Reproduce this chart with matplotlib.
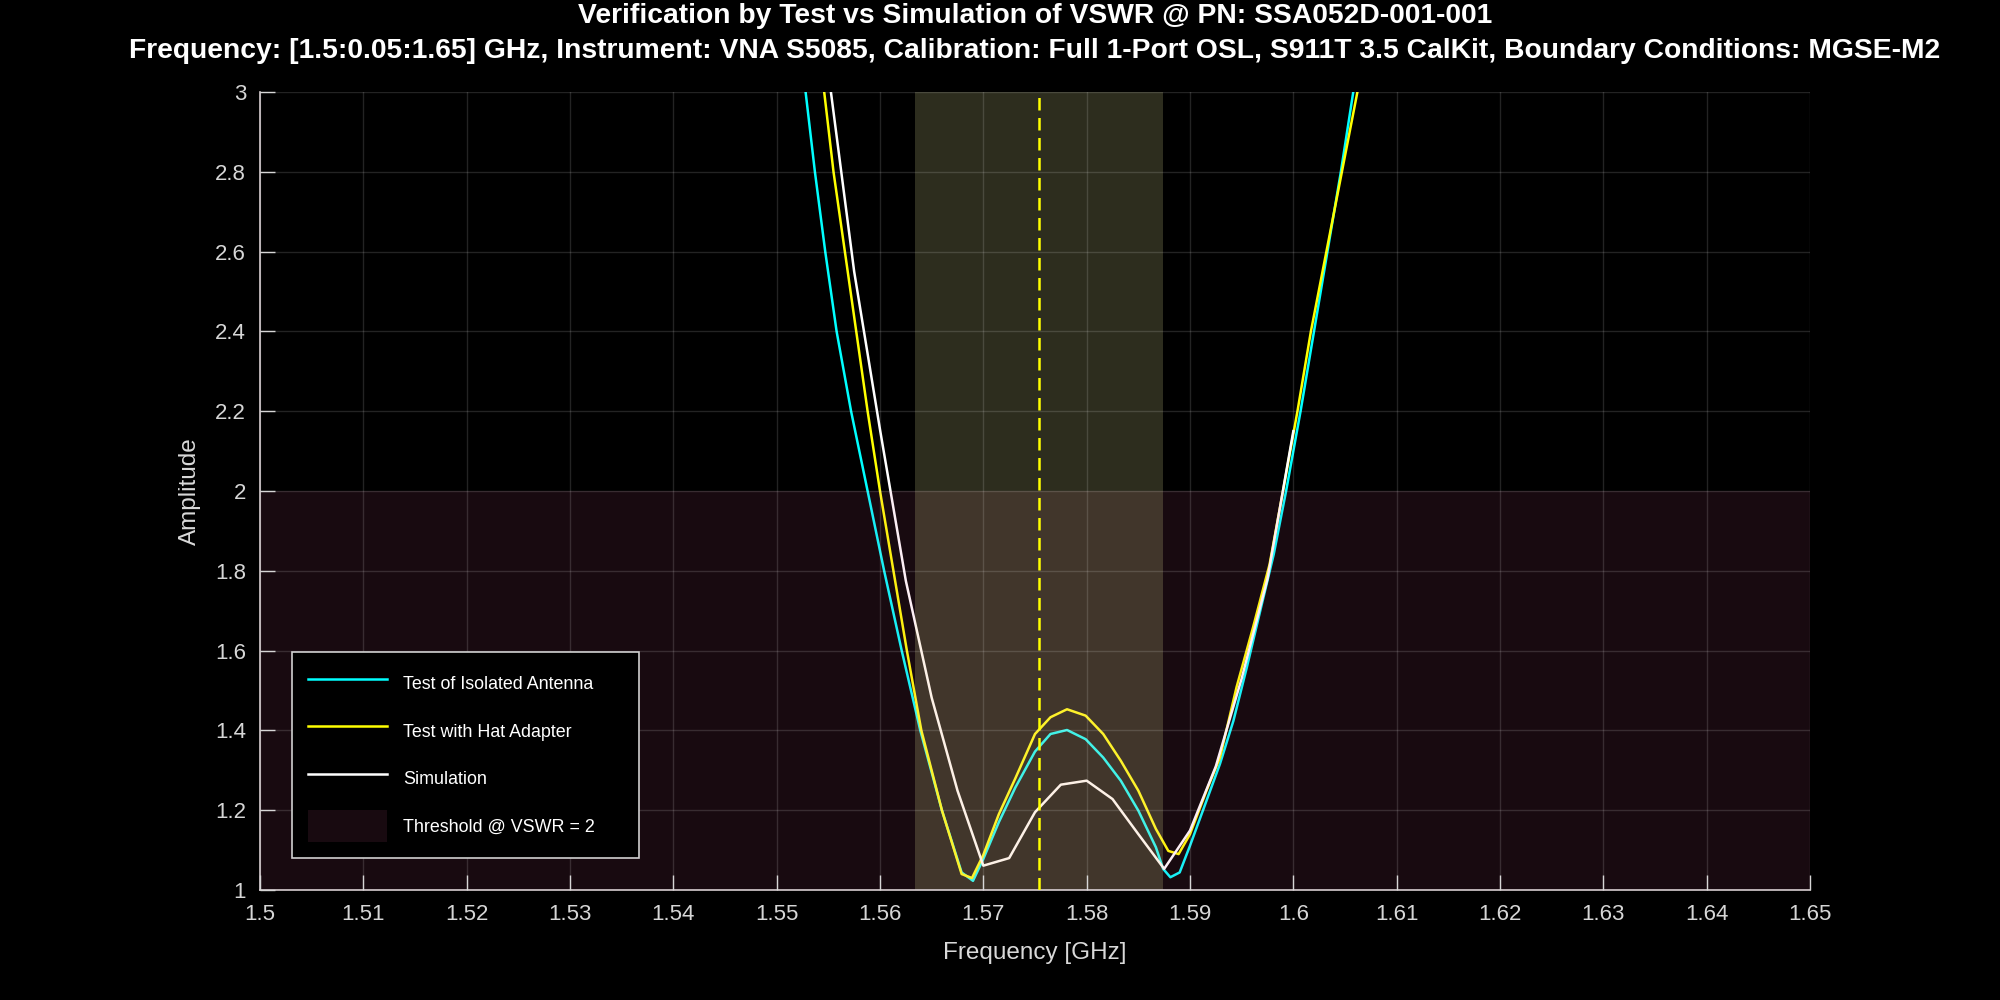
"""VSWR verification: test vs simulation, SSA052D-001-001."""
import matplotlib
matplotlib.use("Agg")
import matplotlib.pyplot as plt
import numpy as np

plt.rcParams["font.family"] = ["Liberation Sans", "DejaVu Sans"]

# test of isolated antenna (cyan)
f_iso = [1.5510, 1.5528, 1.5537, 1.5547, 1.5558, 1.5572, 1.5588, 1.5604, 1.5621,
         1.5639, 1.5660, 1.5679, 1.5690, 1.5700, 1.5715, 1.5731, 1.5750, 1.5765,
         1.5781, 1.5799, 1.5816, 1.5833, 1.5850, 1.5867, 1.5874, 1.5881, 1.5890,
         1.5900, 1.5916, 1.5929, 1.5942, 1.5955, 1.5968, 1.5981, 1.5993, 1.6007,
         1.6020, 1.6033, 1.6046, 1.6058, 1.6070]
v_iso = [3.45, 3.00, 2.80, 2.60, 2.40, 2.20, 2.00, 1.800, 1.600,
         1.400, 1.199, 1.044, 1.023, 1.078, 1.170, 1.257, 1.347, 1.391,
         1.401, 1.378, 1.332, 1.274, 1.199, 1.107, 1.053, 1.032, 1.044,
         1.111, 1.224, 1.316, 1.424, 1.558, 1.700, 1.841, 2.000, 2.200,
         2.400, 2.600, 2.800, 3.000, 3.22]

# test with hat adapter (yellow)
f_hat = [1.5530, 1.5546, 1.5555, 1.5566, 1.5577, 1.5588, 1.5600, 1.5613, 1.5626,
         1.5640, 1.5660, 1.5679, 1.5689, 1.5700, 1.5715, 1.5731, 1.5750, 1.5765,
         1.5781, 1.5799, 1.5816, 1.5833, 1.5850, 1.5867, 1.5879, 1.5889, 1.5900,
         1.5916, 1.5929, 1.5945, 1.5961, 1.5977, 1.5990, 1.6004, 1.6017, 1.6032,
         1.6047, 1.6062, 1.6075]
v_hat = [3.40, 3.00, 2.80, 2.60, 2.40, 2.20, 2.00, 1.800, 1.600,
         1.400, 1.199, 1.040, 1.030, 1.088, 1.190, 1.280, 1.391, 1.433,
         1.453, 1.437, 1.391, 1.324, 1.249, 1.153, 1.098, 1.090, 1.140,
         1.249, 1.332, 1.508, 1.658, 1.816, 2.000, 2.200, 2.400, 2.600,
         2.800, 3.000, 3.20]

# simulation (white), 2.5 MHz step
f_sim = [1.5500, 1.5525, 1.5550, 1.5575, 1.5600, 1.5625, 1.5650, 1.5675, 1.5700,
         1.5725, 1.5750, 1.5775, 1.5800, 1.5825, 1.5850, 1.5875, 1.5900, 1.5925,
         1.5950, 1.5975, 1.6000]
v_sim = [4.20, 3.60, 3.05, 2.55, 2.154, 1.775, 1.482, 1.249, 1.061,
         1.080, 1.195, 1.264, 1.274, 1.228, 1.140, 1.053, 1.149, 1.310,
         1.530, 1.780, 2.150]

band_lo, band_hi, f_center = 1.56342, 1.58742, 1.57542
threshold = 2

fig = plt.figure(figsize=(20, 10), dpi=100, facecolor="black")
ax = fig.add_axes([0.13, 0.11, 0.775, 0.798])
ax.set_facecolor("black")

lw = 1.8
ax.plot(f_iso, v_iso, color="#00ffff", lw=lw, label="Test of Isolated Antenna      ", zorder=2)
ax.plot(f_hat, v_hat, color="#ffff00", lw=lw, label="Test with Hat Adapter", zorder=2)
ax.plot(f_sim, v_sim, color="#ffffff", lw=lw, label="Simulation", zorder=2)
ax.axhspan(1, threshold, color="#f064a0", alpha=0.1, lw=0,
           label="Threshold @ VSWR = 2", zorder=2.2)
ax.axvspan(band_lo, band_hi, color="#ffffa8", alpha=0.18, lw=0, zorder=2.3)
ax.axvline(f_center, color="#ffff00", lw=lw, dashes=(5.0, 3.0), zorder=3)

ax.set_xlim(1.5, 1.65)
ax.set_ylim(1, 3)
xt = np.round(np.arange(1.5, 1.6501, 0.01), 2)
yt = np.round(np.arange(1, 3.001, 0.2), 1)
ax.set_xticks(xt); ax.set_xticklabels(["%g" % v for v in xt])
ax.set_yticks(yt); ax.set_yticklabels(["%g" % v for v in yt])

ax.set_axisbelow(False)
ax.grid(True, color="white", alpha=0.14, lw=1)
for s in ["top", "right"]:
    ax.spines[s].set_visible(False)
for s in ["left", "bottom"]:
    ax.spines[s].set_color("#d6cdd0")
    ax.spines[s].set_linewidth(1.2)
ax.tick_params(direction="in", length=11, width=1, colors="#d6d6d6",
               labelsize=16, top=False, right=False)
ax.tick_params(axis="x", pad=10)
ax.tick_params(axis="y", pad=10)

ax.set_xlabel("Frequency [GHz]", fontsize=17.5, color="#d9d9d9")
ax.set_ylabel("Amplitude", fontsize=17.5, color="#d9d9d9")
ax.xaxis.set_label_coords(0.5, -0.065)
ax.yaxis.set_label_coords(-0.038, 0.5)

leg = ax.legend(loc="lower left", bbox_to_anchor=(0.0206, 0.040), borderaxespad=0,
                fontsize=12.9, frameon=True, fancybox=False, facecolor="black",
                edgecolor="#d0d0d0", framealpha=1, handlelength=4.4,
                handleheight=2.37, handletextpad=0.9, labelspacing=0.86,
                borderpad=0.89)
leg.get_frame().set_linewidth(1.2)
for t in leg.get_texts():
    t.set_color("white")

fig.text(0.5175, 0.977, "Verification by Test vs Simulation of VSWR @ PN: SSA052D-001-001",
         ha="center", va="baseline", color="white", fontsize=20.3, fontweight="bold")
fig.text(0.5175, 0.9415,
         "Frequency: [1.5:0.05:1.65] GHz, Instrument: VNA S5085, Calibration: Full 1-Port OSL, "
         "S911T 3.5 CalKit, Boundary Conditions: MGSE-M2",
         ha="center", va="baseline", color="white", fontsize=20.3, fontweight="bold")

fig.savefig("out.png", dpi=100, facecolor="black")
plt.close(fig)
print("saved out.png")
